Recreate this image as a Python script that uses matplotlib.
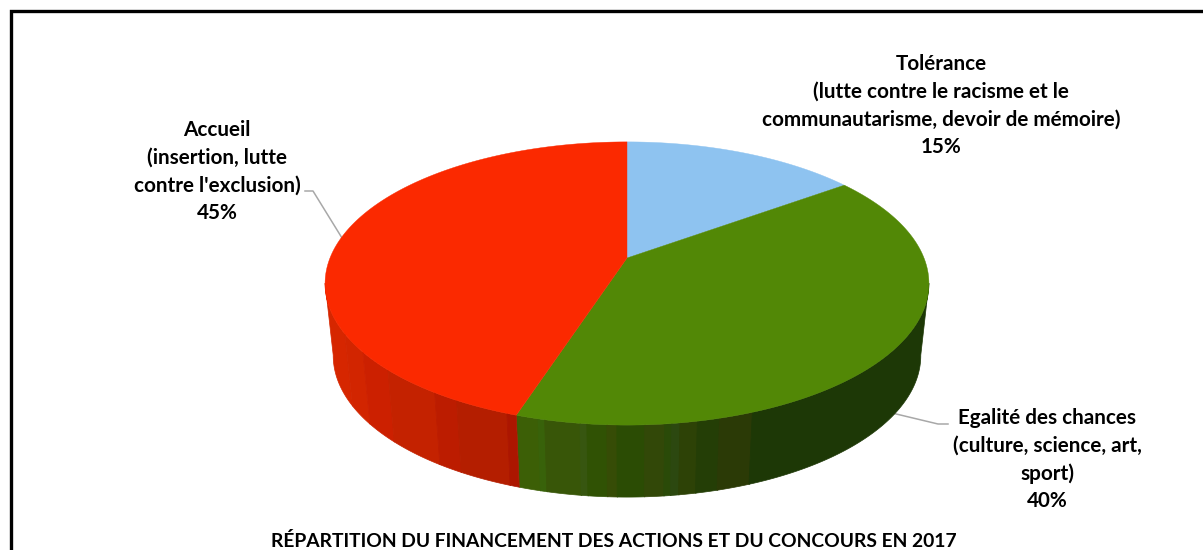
import numpy as np
import matplotlib
matplotlib.use("Agg")
import matplotlib.pyplot as plt

plt.rcParams["font.family"] = ["Lato", "DejaVu Sans"]

# data
categories = ["Tolérance", "Egalité des chances", "Accueil"]
details = [
    ["(lutte contre le racisme et le", "communautarisme, devoir de mémoire)"],
    ["(culture, science, art,", "sport)"],
    ["(insertion, lutte", "contre l'exclusion)"],
]
shares = [15, 40, 45]
title = "RÉPARTITION DU FINANCEMENT DES ACTIONS ET DU CONCOURS EN 2017"

top_colors = ["#8EC3F0", "#528806", "#FB2900"]

# bandes d'ombrage sur le flanc (limite droite en pixels, couleur)
wall_bands = {
    1: [(538, "#3C5F06"), (545, "#38620A"), (580, "#385608"), (587, "#375610"),
        (607, "#305204"), (617, "#364C06"), (645, "#2B4C04"), (665, "#324808"),
        (672, "#2A4A08"), (680, "#2C4810"), (698, "#2D4206"), (720, "#243E06"),
        (753, "#2B3A06"), (2000, "#1D3806")],
    2: [(345, "#D62600"), (363, "#D22500"), (388, "#CC2000"), (435, "#C42200"),
        (457, "#BC1C00"), (507, "#B41E00"), (2000, "#AC1600")],
}

# géométrie du camembert en perspective
cx, cy = 627, 258
a, b, k = 297, 137, 0.18
depth = 72
bottom_scale = 0.973


def project(theta):
    x, y = np.sin(theta), np.cos(theta)
    w = 1 + k * y
    return cx + a * x / w, cy - b * y / w


def bottom(theta):
    x, y = project(theta)
    return cx + (x - cx) * bottom_scale, y + depth


fig = plt.figure(figsize=(12.03, 5.5), dpi=100)
ax = fig.add_axes([0, 0, 1, 1])
ax.set_xlim(0, 1203)
ax.set_ylim(550, 0)
ax.axis("off")

# cadre noir (haut et gauche seulement visibles)
ax.plot([10.5, 10.5, 1203], [550, 10.5, 10.5], color="black", lw=2.4, solid_joinstyle="miter")

edges = np.cumsum([0] + shares) / sum(shares) * 2 * np.pi

# flanc : de l'extrême droite à l'extrême gauche en passant par l'avant
fine = np.linspace(0, 2 * np.pi, 1441)
xs, _ = project(fine)
t_right, t_left = fine[np.argmax(xs)], fine[np.argmin(xs)]
for i in range(1, len(shares)):
    t0 = max(edges[i], t_right)
    t1 = min(edges[i + 1], t_left)
    if t1 <= t0:
        continue
    ts = np.linspace(t0, t1, 800)
    top_x, top_y = project(ts)
    bot_x, bot_y = bottom(ts)
    x_min = -1
    for limit, color in wall_bands[i]:
        # une bande = un seul polygone, pour éviter les joints visibles
        idx = np.where((top_x > x_min) & (top_x <= limit))[0]
        x_min = limit
        if len(idx) == 0:
            continue
        idx = np.arange(max(idx[0] - 1, 0), min(idx[-1] + 2, len(ts)))
        px = np.r_[top_x[idx], bot_x[idx][::-1]]
        py = np.r_[top_y[idx], bot_y[idx][::-1]]
        ax.fill(px, py, color=color, lw=0.5, zorder=2)

# dessus du camembert
for i, color in enumerate(top_colors):
    ts = np.linspace(edges[i], edges[i + 1], 400)
    x, y = project(ts)
    ax.fill(np.r_[cx, x], np.r_[cy, y], color=color, lw=0.3, zorder=3)

# traits de rappel
leader_color = "#A8A8A8"
ax.plot([305, 313, 342], [191, 191, 238], color=leader_color, lw=1.1, zorder=1)
ax.plot([892, 938, 948], [413, 424, 424], color=leader_color, lw=1.1, zorder=1)

# étiquettes
label_pos = [(941, 64), (1047, 418), (217, 130)]
line_h = 27.7
for name, det, share, (lx, ly) in zip(categories, details, shares, label_pos):
    lines = [name] + det + [f"{share}%"]
    for j, line in enumerate(lines):
        ax.text(lx, ly + j * line_h, line, ha="center", va="center", fontsize=14.9,
                fontweight="bold", color="black")

ax.text(614, 541, title, ha="center", va="center", fontsize=13.9, fontweight="bold", color="black")

fig.savefig("out.png", dpi=100, facecolor="white")
